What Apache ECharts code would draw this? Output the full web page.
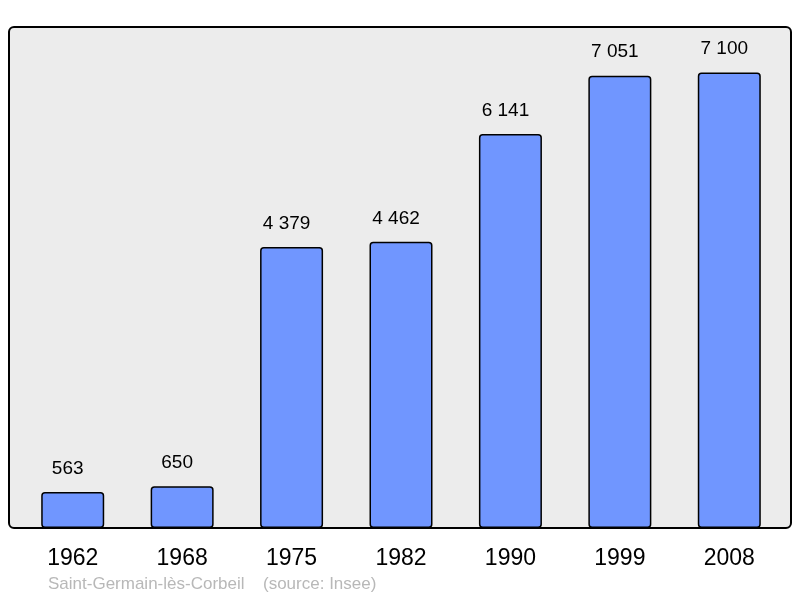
<!DOCTYPE html>
<html>
<head>
<meta charset="utf-8">
<script src="https://cdn.jsdelivr.net/npm/echarts@6/dist/echarts.min.js"></script>
<style>
  html, body { margin: 0; padding: 0; background: #fff; }
  #chart { width: 800px; height: 598px; }
</style>
</head>
<body>
<div id="chart"></div>
<script>
var years = ["1962", "1968", "1975", "1982", "1990", "1999", "2008"];
var population = [563, 650, 4379, 4462, 6141, 7051, 7100];
var townName = "Saint-Germain-lès-Corbeil";
var sourceNote = "(source: Insee)";

var myChart = echarts.init(document.getElementById("chart"));

// thousands with a space, like "4 379"
function fmt(v) {
  return String(v).replace(/\B(?=(\d{3})+(?!\d))/g, " ");
}

var option = {
  animation: false,
  textStyle: { fontFamily: "Liberation Sans" },
  graphic: [
    {
      type: "rect",
      z: -10,
      shape: { x: 9, y: 27, width: 782, height: 501, r: 5 },
      style: { fill: "#ececec", stroke: "#000", lineWidth: 2 }
    },
    {
      type: "text",
      left: 48,
      top: 576,
      style: { text: townName, fill: "#b8b8b8", font: "17px 'Liberation Sans'" }
    },
    {
      type: "text",
      left: 263,
      top: 576,
      style: { text: sourceNote, fill: "#b8b8b8", font: "17px 'Liberation Sans'" }
    }
  ],
  grid: { left: 18, top: 27, width: 766, height: 501 },
  xAxis: {
    type: "category",
    data: years,
    axisLine: { show: false },
    axisTick: { show: false },
    axisLabel: { color: "#000", fontSize: 23, margin: 19 }
  },
  yAxis: {
    type: "value",
    min: 0,
    max: 7810,
    show: false,
    splitLine: { show: false }
  },
  series: [
    {
      type: "bar",
      data: population,
      barWidth: 63,
      itemStyle: {
        color: "#7096ff",
        borderColor: "#000",
        borderWidth: 1.5,
        borderRadius: 3
      },
      label: {
        show: true,
        position: "top",
        distance: 14,
        offset: [-5, 0],
        color: "#000",
        fontSize: 19,
        formatter: function (p) { return fmt(p.value); }
      }
    }
  ]
};

myChart.setOption(option);
</script>
</body>
</html>
